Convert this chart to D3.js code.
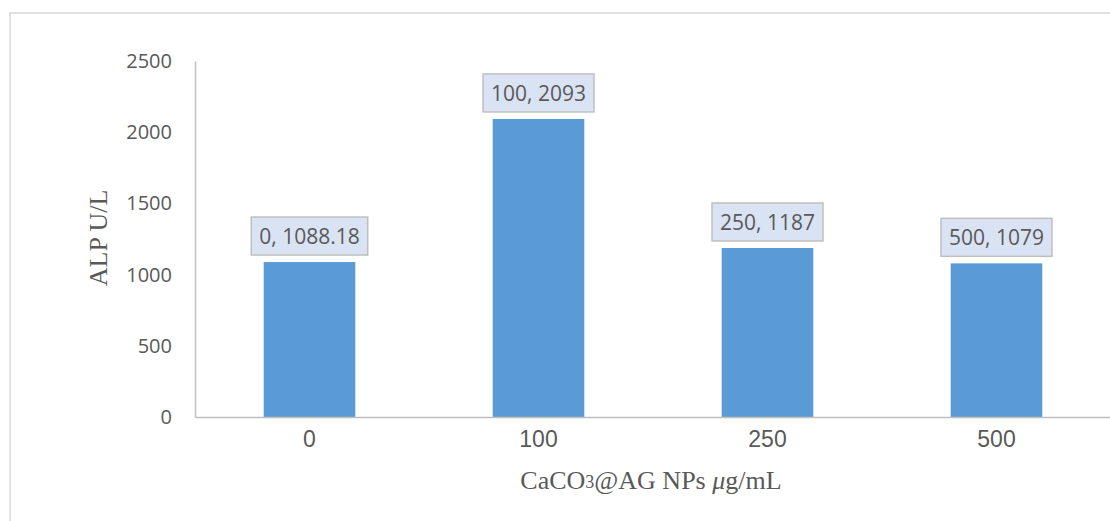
<!DOCTYPE html>
<html>
<head>
<meta charset="utf-8">
<script src="https://cdn.jsdelivr.net/npm/d3@7"></script>
<style>
  html, body { margin: 0; padding: 0; background: #fff; }
  svg { display: block; }
</style>
</head>
<body>
<svg id="chart" width="1110" height="521"></svg>
<script>
// ALP activity by nanoparticle concentration
const categories = ["0", "100", "250", "500"];
const alpValues = [1088.18, 2093, 1187, 1079];
const yTicks = [0, 500, 1000, 1500, 2000, 2500];

const svg = d3.select("#chart");
const W = 1110, H = 521;
const plot = { left: 195, right: 1111, top: 61, bottom: 417 };
const grey = "#595959";

// outer chart frame
svg.append("rect")
  .attr("x", 10).attr("y", 13)
  .attr("width", W + 20).attr("height", H + 20)
  .attr("fill", "#fff")
  .attr("stroke", "#d9d9d9").attr("stroke-width", 1.5);

const x = d3.scaleBand()
  .domain(categories)
  .range([plot.left, plot.right])
  .paddingInner(0.6)
  .paddingOuter(0.3);

const y = d3.scaleLinear()
  .domain([0, 2500])
  .range([plot.bottom, plot.top]);

// bars
svg.append("g").selectAll("rect")
  .data(categories)
  .join("rect")
  .attr("x", d => x(d))
  .attr("width", x.bandwidth())
  .attr("y", (d, i) => y(alpValues[i]))
  .attr("height", (d, i) => y(0) - y(alpValues[i]))
  .attr("fill", "#5b9bd5");

// y axis
const yAxis = svg.append("g")
  .attr("transform", `translate(${plot.left},0)`)
  .call(d3.axisLeft(y).tickValues(yTicks).tickSize(0).tickPadding(23).tickFormat(d3.format("d")));
yAxis.select(".domain").attr("stroke", "#bfbfbf").attr("stroke-width", 1.5);
yAxis.selectAll("text")
  .attr("fill", grey)
  .style("font-family", "'Open Sans', sans-serif")
  .style("font-size", "20px");

// x axis
const xAxis = svg.append("g")
  .attr("transform", `translate(0,${plot.bottom})`)
  .call(d3.axisBottom(x).tickSize(0).tickPadding(14));
xAxis.select(".domain").attr("stroke", "#bfbfbf").attr("stroke-width", 1.5);
xAxis.selectAll("text")
  .attr("fill", grey)
  .style("font-family", "'Liberation Sans', Arial, sans-serif")
  .style("font-size", "23px");

// data labels in boxes
const labelFont = "'Open Sans', sans-serif";
const labels = svg.append("g").selectAll("g")
  .data(categories)
  .join("g");
labels.each(function(d, i) {
  const g = d3.select(this);
  const cx = x(d) + x.bandwidth() / 2;
  const bottom = y(alpValues[i]) - 7;
  const boxH = 38;
  const t = g.append("text")
    .attr("x", cx)
    .attr("y", bottom - boxH / 2)
    .attr("text-anchor", "middle")
    .attr("dominant-baseline", "central")
    .attr("fill", grey)
    .style("font-family", labelFont)
    .style("font-size", "21px")
    .text(`${d}, ${alpValues[i]}`);
  const w = t.node().getComputedTextLength() + 16;
  g.insert("rect", "text")
    .attr("x", cx - w / 2)
    .attr("y", bottom - boxH)
    .attr("width", w)
    .attr("height", boxH)
    .attr("fill", "#dae3f3")
    .attr("stroke", "#bfbfbf")
    .attr("stroke-width", 1.5);
});

// axis titles
const xt = svg.append("text")
  .attr("x", 651).attr("y", 480)
  .attr("text-anchor", "middle")
  .attr("dominant-baseline", "central")
  .attr("fill", grey)
  .style("font-family", "'Liberation Serif', 'Times New Roman', serif")
  .style("font-size", "26px");
xt.append("tspan").text("CaCO");
xt.append("tspan").text("3").style("font-size", "18px").attr("dy", 2);
xt.append("tspan").text("@AG NPs ").attr("dy", -2);
xt.append("tspan").text("μ").style("font-style", "italic");
xt.append("tspan").text("g/mL");

svg.append("text")
  .attr("transform", "translate(98,238) rotate(-90)")
  .attr("text-anchor", "middle")
  .attr("dominant-baseline", "central")
  .attr("fill", grey)
  .style("font-family", "'Liberation Serif', 'Times New Roman', serif")
  .style("font-size", "26px")
  .text("ALP U/L");
</script>
</body>
</html>
